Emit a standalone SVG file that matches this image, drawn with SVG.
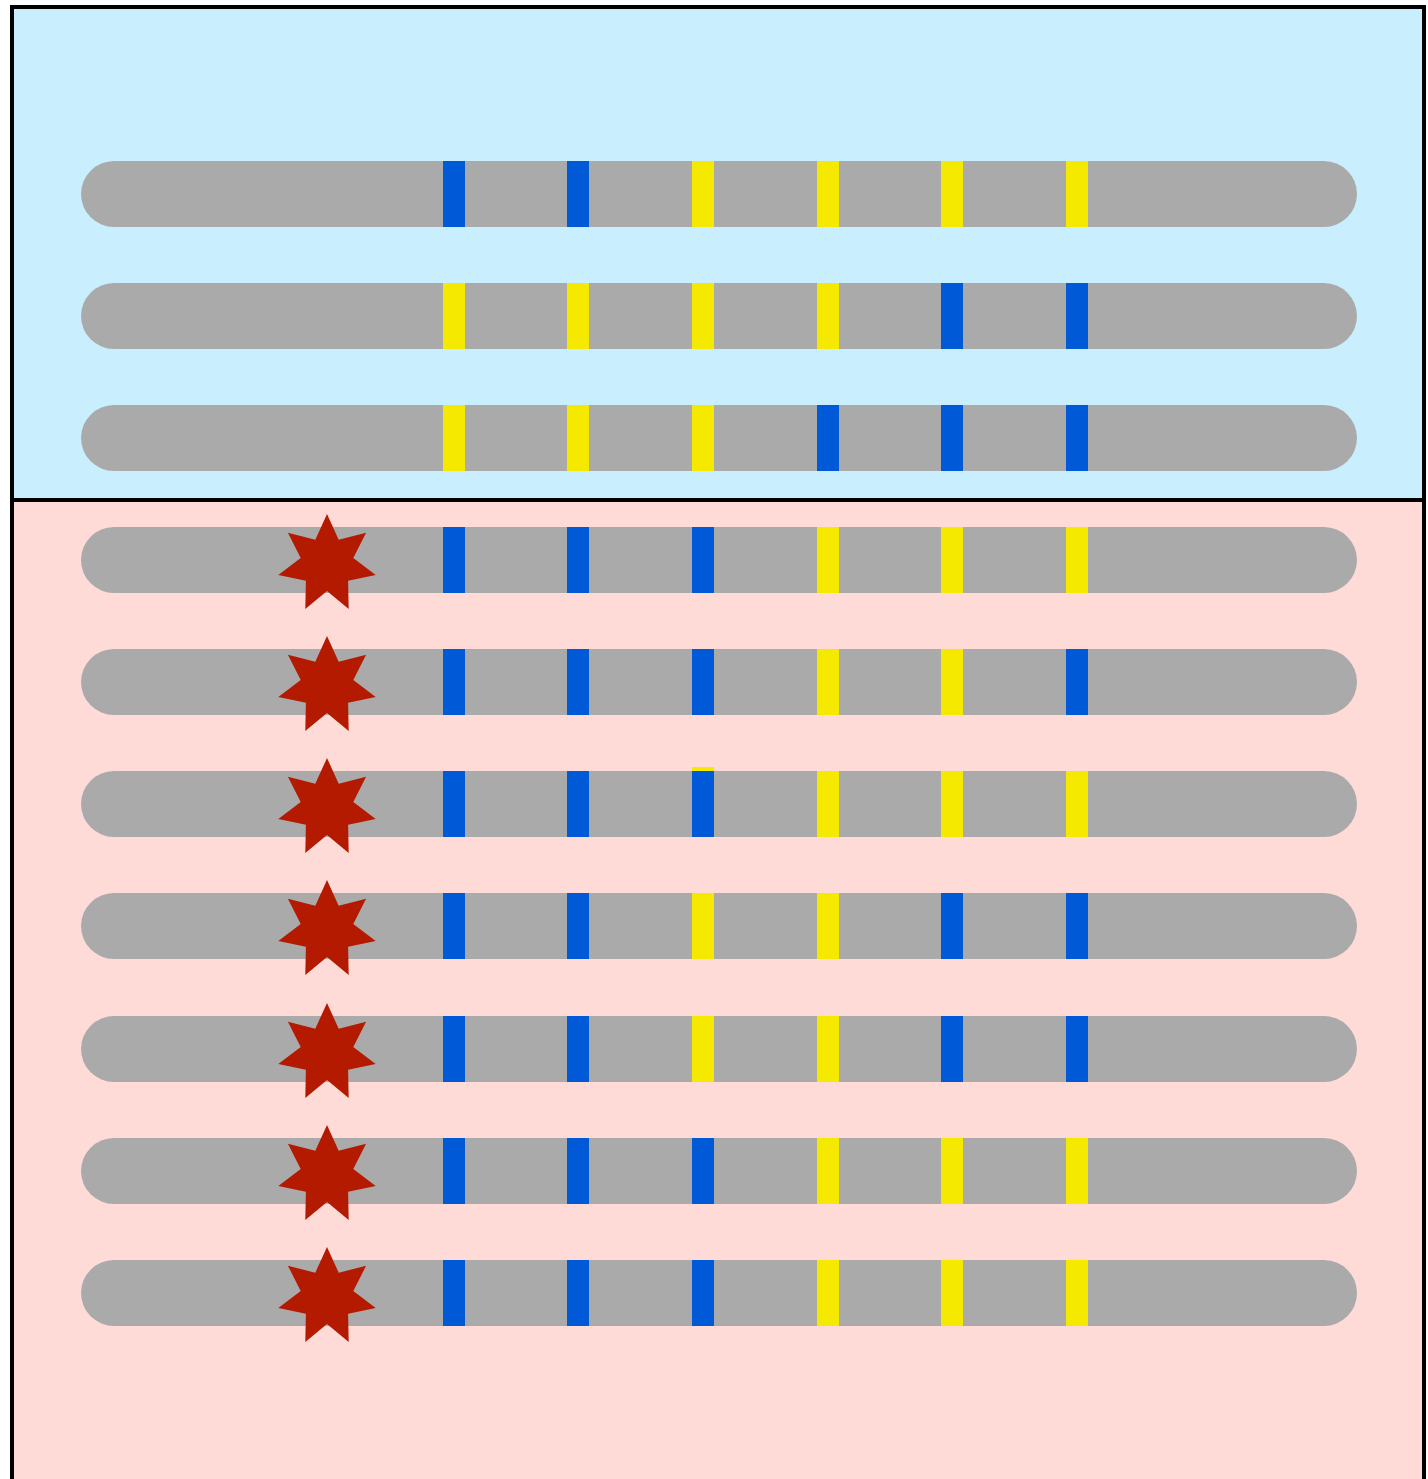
<svg xmlns="http://www.w3.org/2000/svg" width="1428" height="1479" viewBox="0 0 1428 1479">
<defs>
<style>
.bar{fill:#aaaaaa}
.b{fill:#0059d6}
.y{fill:#f6e900}
.star{fill:#b31a00}
.frame{stroke:#000;stroke-width:4}
</style>
<polygon id="star" points="0,-50 11.7,-24.3 39.1,-31.2 26.3,-6 48.7,11.1 21.1,16.8 21.7,45 0,27 -21.7,45 -21.1,16.8 -48.7,11.1 -26.3,-6 -39.1,-31.2 -11.7,-24.3"/>
</defs>
<rect x="0" y="0" width="1428" height="1479" fill="#fff"/>
<g id="top-panel"><rect x="12" y="7" width="1412" height="493" fill="#c9effe" class="frame"/></g>
<g id="bottom-panel"><path d="M12 1479 V500 H1424 V1479" fill="#ffdbd8" class="frame"/></g>
<g id="rows">
<g id="row1"><rect class="bar" x="81" y="161" width="1276" height="66" rx="33"/><rect class="b" x="443" y="161" width="22" height="66"/><rect class="b" x="567" y="161" width="22" height="66"/><rect class="y" x="692" y="161" width="22" height="66"/><rect class="y" x="817" y="161" width="22" height="66"/><rect class="y" x="941" y="161" width="22" height="66"/><rect class="y" x="1066" y="161" width="22" height="66"/></g>
<g id="row2"><rect class="bar" x="81" y="283" width="1276" height="66" rx="33"/><rect class="y" x="443" y="283" width="22" height="66"/><rect class="y" x="567" y="283" width="22" height="66"/><rect class="y" x="692" y="283" width="22" height="66"/><rect class="y" x="817" y="283" width="22" height="66"/><rect class="b" x="941" y="283" width="22" height="66"/><rect class="b" x="1066" y="283" width="22" height="66"/></g>
<g id="row3"><rect class="bar" x="81" y="405" width="1276" height="66" rx="33"/><rect class="y" x="443" y="405" width="22" height="66"/><rect class="y" x="567" y="405" width="22" height="66"/><rect class="y" x="692" y="405" width="22" height="66"/><rect class="b" x="817" y="405" width="22" height="66"/><rect class="b" x="941" y="405" width="22" height="66"/><rect class="b" x="1066" y="405" width="22" height="66"/></g>
<g id="row4"><rect class="bar" x="81" y="527" width="1276" height="66" rx="33"/><rect class="b" x="443" y="527" width="22" height="66"/><rect class="b" x="567" y="527" width="22" height="66"/><rect class="b" x="692" y="527" width="22" height="66"/><rect class="y" x="817" y="527" width="22" height="66"/><rect class="y" x="941" y="527" width="22" height="66"/><rect class="y" x="1066" y="527" width="22" height="66"/><use href="#star" class="star" x="327" y="564"/></g>
<g id="row5"><rect class="bar" x="81" y="649" width="1276" height="66" rx="33"/><rect class="b" x="443" y="649" width="22" height="66"/><rect class="b" x="567" y="649" width="22" height="66"/><rect class="b" x="692" y="649" width="22" height="66"/><rect class="y" x="817" y="649" width="22" height="66"/><rect class="y" x="941" y="649" width="22" height="66"/><rect class="b" x="1066" y="649" width="22" height="66"/><use href="#star" class="star" x="327" y="686"/></g>
<g id="row6"><rect class="bar" x="81" y="771" width="1276" height="66" rx="33"/><rect class="b" x="443" y="771" width="22" height="66"/><rect class="b" x="567" y="771" width="22" height="66"/><rect class="y" x="692" y="767" width="22" height="6"/><rect class="b" x="692" y="771" width="22" height="66"/><rect class="y" x="817" y="771" width="22" height="66"/><rect class="y" x="941" y="771" width="22" height="66"/><rect class="y" x="1066" y="771" width="22" height="66"/><use href="#star" class="star" x="327" y="808"/></g>
<g id="row7"><rect class="bar" x="81" y="893" width="1276" height="66" rx="33"/><rect class="b" x="443" y="893" width="22" height="66"/><rect class="b" x="567" y="893" width="22" height="66"/><rect class="y" x="692" y="893" width="22" height="66"/><rect class="y" x="817" y="893" width="22" height="66"/><rect class="b" x="941" y="893" width="22" height="66"/><rect class="b" x="1066" y="893" width="22" height="66"/><use href="#star" class="star" x="327" y="930"/></g>
<g id="row8"><rect class="bar" x="81" y="1016" width="1276" height="66" rx="33"/><rect class="b" x="443" y="1016" width="22" height="66"/><rect class="b" x="567" y="1016" width="22" height="66"/><rect class="y" x="692" y="1016" width="22" height="66"/><rect class="y" x="817" y="1016" width="22" height="66"/><rect class="b" x="941" y="1016" width="22" height="66"/><rect class="b" x="1066" y="1016" width="22" height="66"/><use href="#star" class="star" x="327" y="1053"/></g>
<g id="row9"><rect class="bar" x="81" y="1138" width="1276" height="66" rx="33"/><rect class="b" x="443" y="1138" width="22" height="66"/><rect class="b" x="567" y="1138" width="22" height="66"/><rect class="b" x="692" y="1138" width="22" height="66"/><rect class="y" x="817" y="1138" width="22" height="66"/><rect class="y" x="941" y="1138" width="22" height="66"/><rect class="y" x="1066" y="1138" width="22" height="66"/><use href="#star" class="star" x="327" y="1175"/></g>
<g id="row10"><rect class="bar" x="81" y="1260" width="1276" height="66" rx="33"/><rect class="b" x="443" y="1260" width="22" height="66"/><rect class="b" x="567" y="1260" width="22" height="66"/><rect class="b" x="692" y="1260" width="22" height="66"/><rect class="y" x="817" y="1260" width="22" height="66"/><rect class="y" x="941" y="1260" width="22" height="66"/><rect class="y" x="1066" y="1260" width="22" height="66"/><use href="#star" class="star" x="327" y="1297"/></g>
</g>
<g id="connectors"/>
</svg>
